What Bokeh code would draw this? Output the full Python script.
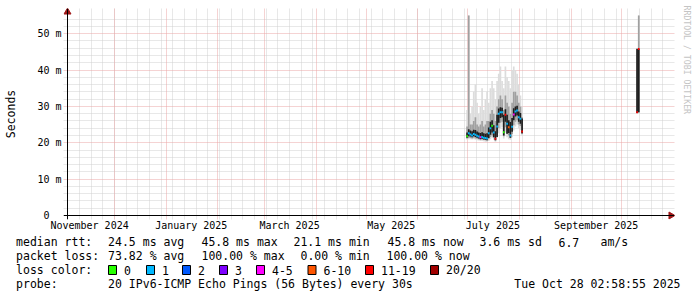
import math
import pandas as pd
from bokeh.plotting import figure
from bokeh.models import (ColumnDataSource, Range1d, FixedTicker, Grid, Span,
                          LinearAxis)
from bokeh.layouts import column
from bokeh.core.properties import value
from bokeh.embed import file_html
from bokeh.resources import INLINE

MONO = "DejaVu Sans Mono"

# ---------------- data (one consolidated step per day) ----------------
step_days = list(pd.date_range("2025-06-30", "2025-08-02", freq="D")) + \
    [pd.Timestamp("2025-10-10"), pd.Timestamp("2025-10-11")]
median_ms = [21.8, 22.6, 22.3, 22.0, 22.4, 22.2, 21.9, 21.7, 21.5, 21.6,
             21.4, 21.3, 21.2, 22.6, 24.0, 24.7, 22.8, 21.1, 24.5, 28.0,
             28.4, 28.4, 22.9, 27.7, 25.2, 24.3, 22.0, 24.4, 27.8, 28.6,
             28.9, 27.0, 26.6, 23.1, 28.4, 45.8]
loss_bin = [0, 1, 1, 1, 1, 1, 1, 1, 4, 1,
            1, 1, 1, 1, 1, 0, 1, 6, 1, 1,
            1, 1, 0, 6, 1, 5, 1, 1, 4, 1,
            1, 1, 1, 6, 6, 6]
ping_min = [20.9, 21.0, 21.0, 20.9, 21.0, 20.8, 20.7, 20.6, 20.5, 20.5,
            20.4, 20.3, 20.2, 20.5, 21.0, 21.4, 20.8, 20.3, 21.4, 22.6,
            24.0, 24.3, 21.2, 22.8, 21.5, 21.0, 20.8, 21.5, 23.4, 24.5,
            25.0, 24.0, 23.5, 22.0, 28.0, 28.2]
ping_max = [29, 55, 28, 30, 34, 36, 31, 28, 30, 35,
            29, 32, 34, 31, 35, 37, 35, 32, 37, 39,
            41, 37, 35, 41, 38, 37, 35, 40, 41, 40,
            39, 36, 33, 30, 46, 55]
q_lo = [21.2, 21.3, 21.3, 21.2, 21.4, 21.2, 21.1, 21.0, 20.9, 20.9,
        20.8, 20.7, 20.6, 21.0, 21.6, 22.0, 21.3, 20.6, 22.0, 24.0,
        25.5, 25.8, 21.8, 24.3, 22.5, 22.0, 21.3, 22.4, 24.8, 25.8,
        26.2, 25.0, 24.6, 22.4, 28.2, 28.3]
q_hi = [24.5, 55, 25, 25, 26, 27, 25, 24.5, 25, 26,
        24.5, 25, 26, 26, 28, 29, 28, 26, 30, 32,
        33, 32, 29, 33, 31, 30, 28, 31, 34, 34,
        33, 31, 30, 27, 46, 55]
core_lo = [21.4, 21.8, 21.7, 21.5, 21.8, 21.6, 21.4, 21.2, 21.0, 21.1,
           20.9, 20.8, 20.7, 21.3, 22.2, 22.8, 21.6, 20.7, 21.6, 25.5,
           26.8, 27.0, 22.0, 25.8, 22.5, 22.7, 21.4, 23.0, 26.2, 27.2,
           27.5, 25.8, 25.2, 22.6, 28.2, 28.4]
core_hi = [22.8, 23.7, 23.4, 23.2, 23.6, 23.5, 23.1, 22.8, 22.7, 22.9,
           22.6, 22.5, 22.6, 24.2, 25.8, 26.2, 24.8, 23.2, 27.7, 29.4,
           29.8, 29.6, 27.7, 29.2, 27.7, 26.2, 25.7, 26.8, 29.5, 30.0,
           30.2, 28.6, 28.2, 26.7, 45.8, 45.8]

loss_labels = ["0", "1", "2", "3", "4-5", "6-10", "11-19", "20/20"]
loss_colors = ["#26ff00", "#00b8ff", "#0059ff", "#7e00ff", "#ff00ff",
               "#ff5500", "#ff0000", "#a10000"]

month_label_dates = ["2024-11-16", "2025-01-16", "2025-03-16",
                     "2025-05-16", "2025-07-16", "2025-09-16"]
month_labels = ["November 2024", "January 2025", "March 2025",
                "May 2025", "July 2025", "September 2025"]
y_ticks = [0, 10, 20, 30, 40, 50]
y_labels = ["0\u00a0\u00a0", "10 m", "20 m", "30 m", "40 m", "50 m"]

median_stats = ["24.5 ms avg", "45.8 ms max", "21.1 ms min", "45.8 ms now",
                "3.6 ms sd", "6.7", "am/s"]
loss_stats = ["73.82 % avg", "100.00 % max", "0.00 % min", "100.00 % now"]
probe_text = "20 IPv6-ICMP Echo Pings (56 Bytes) every 30s"
stamp_text = "Tue Oct 28 02:58:55 2025"
watermark = "RRDTOOL / TOBI OETIKER"

# ---------------- helpers / geometry ----------------
def ms(t):
    return float(pd.Timestamp(t).value // 10**6)

DAY = 86400000.0
t0 = ms("2024-11-02 18:00")          # start of graph (y axis position)
t1 = ms("2025-10-28 18:00")          # end of graph
PX_T = (t1 - t0) / 600.0              # time per pixel
PX_Y = 55.0 / 200.0                   # ms per pixel
PAD_L, PAD_R, PAD_B, PAD_T = 4, 7, 4, 7

OUTER, MID, CORE = "#dcdcdc", "#a0a0a0", "#1e1e1e"
MINOR, MAJOR = "#d0d0d0", "#eba6a6"
ARROW = "#a01818"

src = ColumnDataSource(dict(
    x=[ms(d) + DAY / 2 for d in step_days],
    med=median_ms, pmin=ping_min, pmax=ping_max, qlo=q_lo, qhi=q_hi,
    clo=core_lo, chi=core_hi,
    color=[loss_colors[b] for b in loss_bin],
))

p = figure(frame_width=600 + PAD_L + PAD_R, frame_height=200 + PAD_B + PAD_T,
           x_axis_type="datetime",
           x_range=Range1d(t0 - PAD_L * PX_T, t1 + PAD_R * PX_T),
           y_range=Range1d(-PAD_B * PX_Y, 55 + PAD_T * PX_Y),
           toolbar_location=None, output_backend="svg",
           min_border_left=63, min_border_right=23, min_border_top=8,
           min_border_bottom=16, background_fill_color="white",
           border_fill_color="white", outline_line_color=None)
p.frame_align = False
p.xgrid.grid_line_color = None
p.ygrid.grid_line_color = None

# grids
week_ticks = [ms(t) for t in pd.date_range("2024-11-03", "2025-10-26", freq="7D")]
month_ticks = [ms(t) for t in pd.date_range("2024-12-01", "2025-10-01", freq="MS")]
y_minor = [v for v in range(2, 56, 2) if v % 10]
y_major = [10, 20, 30, 40, 50]
for dim, ticks, col in [(1, y_minor, MINOR), (0, week_ticks, MINOR),
                        (1, y_major, MAJOR), (0, month_ticks, MAJOR)]:
    p.add_layout(Grid(dimension=dim, ticker=FixedTicker(ticks=ticks),
                      grid_line_color=col, grid_line_dash="1 1",
                      grid_line_width=1))

# smoke and median
p.vbar(x="x", width=DAY, bottom="pmin", top="pmax", fill_color=OUTER,
       line_color=None, source=src)
p.vbar(x="x", width=DAY, bottom="qlo", top="qhi", fill_color=MID,
       line_color=None, source=src)
p.vbar(x="x", width=DAY, bottom="clo", top="chi", fill_color=CORE,
       line_color=None, source=src)
p.rect(x="x", y="med", width=DAY, height=2, height_units="screen",
       fill_color="color", line_color=None, source=src)

# axis lines with arrows
p.add_layout(Span(location=t0, dimension="height", line_color="black",
                  line_width=1))
p.add_layout(Span(location=0, dimension="width", line_color="black",
                  line_width=1))
p.scatter(x=[t0], y=[55 + 3.5 * PX_Y], marker="triangle", size=7,
          fill_color=ARROW, line_color=ARROW)
p.scatter(x=[t1 + 3.5 * PX_T], y=[0], marker="triangle", size=7,
          angle=-math.pi / 2, fill_color=ARROW, line_color=ARROW)

# axes
label_ticks = [ms(d) for d in month_label_dates]
xa = p.xaxis[0]
xa.ticker = FixedTicker(ticks=label_ticks, minor_ticks=[])
xa.major_label_overrides = {t: s for t, s in zip(label_ticks, month_labels)}
xa.major_tick_in = 0
xa.major_tick_out = 0
xa.minor_tick_line_color = None
xa.major_tick_line_color = None
xa.major_label_standoff = 0
xa.major_label_text_font = MONO
xa.major_label_text_font_size = "10px"
xa.major_label_text_color = "black"
xa.axis_line_color = None

ya = p.yaxis[0]
ya.ticker = FixedTicker(ticks=y_ticks, minor_ticks=[])
ya.major_label_overrides = {t: s for t, s in zip(y_ticks, y_labels)}
ya.major_tick_in = 0
ya.major_tick_out = 0
ya.major_tick_line_color = None
ya.minor_tick_line_color = None
ya.major_label_standoff = 2
ya.major_label_text_font = MONO
ya.major_label_text_font_size = "10px"
ya.major_label_text_color = "black"
ya.axis_line_color = None
ya.axis_label = "Seconds"
ya.axis_label_text_font = MONO
ya.axis_label_text_font_size = "11.5px"
ya.axis_label_text_font_style = "normal"
ya.axis_label_text_color = "black"
ya.axis_label_standoff = 16

# watermark as a bare right-hand axis title
wa = LinearAxis(ticker=FixedTicker(ticks=[]), axis_line_color=None,
                major_tick_line_color=None, minor_tick_line_color=None,
                major_tick_in=0, major_tick_out=0, minor_tick_in=0,
                minor_tick_out=0, major_label_standoff=0,
                axis_label=watermark + "\u00a0" * 22,
                axis_label_text_font=MONO, axis_label_text_font_size="8.2px",
                axis_label_text_font_style="normal",
                axis_label_text_color="#c4c4c4", axis_label_standoff=7)
p.add_layout(wa, "right")

# ---------------- legend block ----------------
lg = figure(frame_width=697, frame_height=62, x_range=Range1d(0, 697),
            y_range=Range1d(62, 0), toolbar_location=None, output_backend="svg",
            x_axis_location=None, y_axis_location=None, min_border=0,
            outline_line_color=None, background_fill_color="white",
            border_fill_color="white")
lg.frame_align = False
lg.xgrid.visible = False
lg.ygrid.visible = False

rows_y = [6.5, 20.5, 34.5, 48.5]
tx, ty, tt = [], [], []
def put(x, y, s):
    tx.append(x); ty.append(y); tt.append(s)

put(15.6, rows_y[0], "median rtt:")
for x, s in zip([107.6, 201, 293, 387, 479, 558, 600], median_stats):
    put(x, rows_y[0], s)
put(15.6, rows_y[1], "packet loss:")
for x, s in zip([107.6, 201, 300, 386], loss_stats):
    put(x, rows_y[1], s)
put(15.6, rows_y[2], "loss color:")
box_left = [108, 146, 182, 219, 256, 307.5, 365, 430]
for x, s in zip(box_left, loss_labels):
    put(x + 15.5, rows_y[2], s)
put(15.6, rows_y[3], "probe:")
put(107.6, rows_y[3], probe_text)

lg.text(x=tx, y=ty, text=tt, text_font=value(MONO), text_font_size="11.5px",
        text_baseline="middle", text_align="left", text_color="black")
lg.text(x=[680], y=[rows_y[3]], text=[stamp_text], text_font=value(MONO),
        text_font_size="11.5px", text_baseline="middle", text_align="right",
        text_color="black")
lg.rect(x=[b + 4 for b in box_left], y=[rows_y[2]] * len(box_left), width=8,
        height=9, fill_color=loss_colors, line_color="black", line_width=1)

layout = column(p, lg, spacing=0)
open("out.html", "w").write(file_html(layout, INLINE))
